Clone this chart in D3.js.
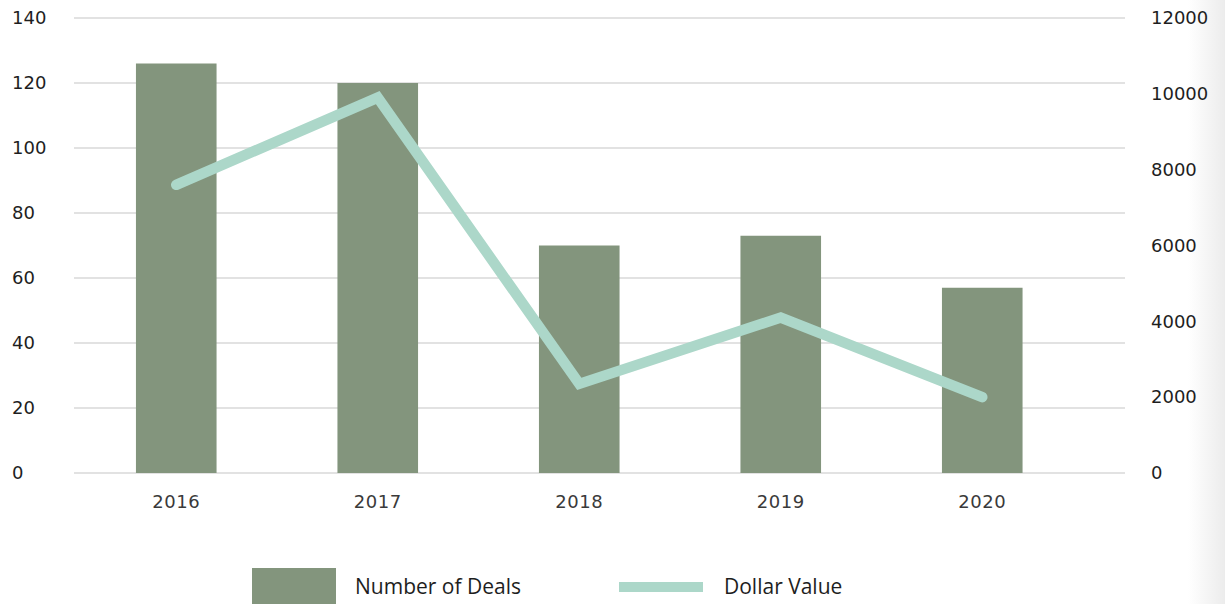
<!DOCTYPE html>
<html>
<head>
<meta charset="utf-8">
<script src="https://cdn.jsdelivr.net/npm/d3@7"></script>
<style>
  html, body { margin: 0; padding: 0; background: #fff; }
  svg { display: block; }
</style>
</head>
<body>
<svg id="chart" width="1225" height="604"></svg>
<script>
// Deal activity by year
const years = ["2016", "2017", "2018", "2019", "2020"];
const dealCounts = [126, 120, 70, 73, 57];
const dollarValues = [7600, 9900, 2350, 4100, 2000];
const leftTicks = [0, 20, 40, 60, 80, 100, 120, 140];
const rightTicks = [0, 2000, 4000, 6000, 8000, 10000, 12000];
const legendLabels = ["Number of Deals", "Dollar Value"];

const barColor = "#83957d";
const lineColor = "#acd7c9";
const gridColor = "#d9d9d9";
const numFont = "'DejaVu Sans', Lato, sans-serif";
const textFont = "'Open Sans', 'Noto Sans', sans-serif";

const svg = d3.select("#chart");

// subtle shading along the right edge
const defs = svg.append("defs");
const grad = defs.append("linearGradient").attr("id", "edge").attr("x1", 0).attr("x2", 1).attr("y1", 0).attr("y2", 0);
grad.append("stop").attr("offset", 0).attr("stop-color", "#ffffff");
grad.append("stop").attr("offset", 1).attr("stop-color", "#ececec");
svg.append("rect").attr("x", 1188).attr("y", 0).attr("width", 37).attr("height", 604).attr("fill", "url(#edge)");

const gridLeft = 74, gridRight = 1125;
const yTop = 18, yBase = 473;

const x = d3.scaleBand().domain(years).range([75.5, 1083]).paddingInner(0.6).paddingOuter(0.3);
const yL = d3.scaleLinear().domain([0, 140]).range([yBase, yTop]);
const yR = d3.scaleLinear().domain([0, 12000]).range([yBase, yTop]);

// horizontal gridlines
svg.append("g").selectAll("line").data(leftTicks).join("line")
  .attr("x1", gridLeft).attr("x2", gridRight)
  .attr("y1", d => yL(d)).attr("y2", d => yL(d))
  .attr("stroke", gridColor).attr("stroke-width", 1.6);

// left axis labels
const leftAxis = d3.axisLeft(yL).tickValues(leftTicks).tickSize(0).tickPadding(0);
const gL = svg.append("g").attr("transform", "translate(12,0)").call(leftAxis);
gL.select(".domain").remove();
gL.selectAll("text")
  .attr("text-anchor", "start")
  .attr("font-family", numFont)
  .attr("font-size", 18).attr("fill", "#1e1e1e");

// right axis labels
const rightAxis = d3.axisRight(yR).tickValues(rightTicks).tickSize(0).tickPadding(0).tickFormat(d3.format("d"));
const gR = svg.append("g").attr("transform", "translate(1151,0)").call(rightAxis);
gR.select(".domain").remove();
gR.selectAll("text")
  .attr("font-family", numFont)
  .attr("font-size", 18).attr("fill", "#1e1e1e");

// bars
svg.append("g").selectAll("rect").data(years).join("rect")
  .attr("x", d => x(d))
  .attr("width", x.bandwidth())
  .attr("y", (d, i) => yL(dealCounts[i]))
  .attr("height", (d, i) => yBase - yL(dealCounts[i]))
  .attr("fill", barColor);

// line for dollar value
const line = d3.line()
  .x((d, i) => x(years[i]) + x.bandwidth() / 2)
  .y(d => yR(d));
svg.append("path")
  .datum(dollarValues)
  .attr("d", line)
  .attr("fill", "none")
  .attr("stroke", lineColor)
  .attr("stroke-width", 10.5)
  .attr("stroke-linecap", "round")
  .attr("stroke-linejoin", "miter");

// x axis labels
const xAxis = d3.axisBottom(x).tickSize(0).tickPadding(0);
const gX = svg.append("g").attr("transform", "translate(0,495)").call(xAxis);
gX.select(".domain").remove();
gX.selectAll("text")
  .attr("font-family", numFont)
  .attr("font-size", 18).attr("fill", "#3a3a3a")
  .attr("letter-spacing", 0.5);

// legend
const legend = svg.append("g");
legend.append("rect").attr("x", 252).attr("y", 568).attr("width", 84).attr("height", 36).attr("fill", barColor);
legend.append("text").attr("x", 355).attr("y", 594)
  .attr("font-family", textFont)
  .attr("font-size", 21).attr("fill", "#1e1e1e").text(legendLabels[0]);
legend.append("line").attr("x1", 619).attr("x2", 703).attr("y1", 587).attr("y2", 587)
  .attr("stroke", lineColor).attr("stroke-width", 10);
legend.append("text").attr("x", 724).attr("y", 594)
  .attr("font-family", textFont)
  .attr("font-size", 21).attr("fill", "#1e1e1e").text(legendLabels[1]);
</script>
</body>
</html>
